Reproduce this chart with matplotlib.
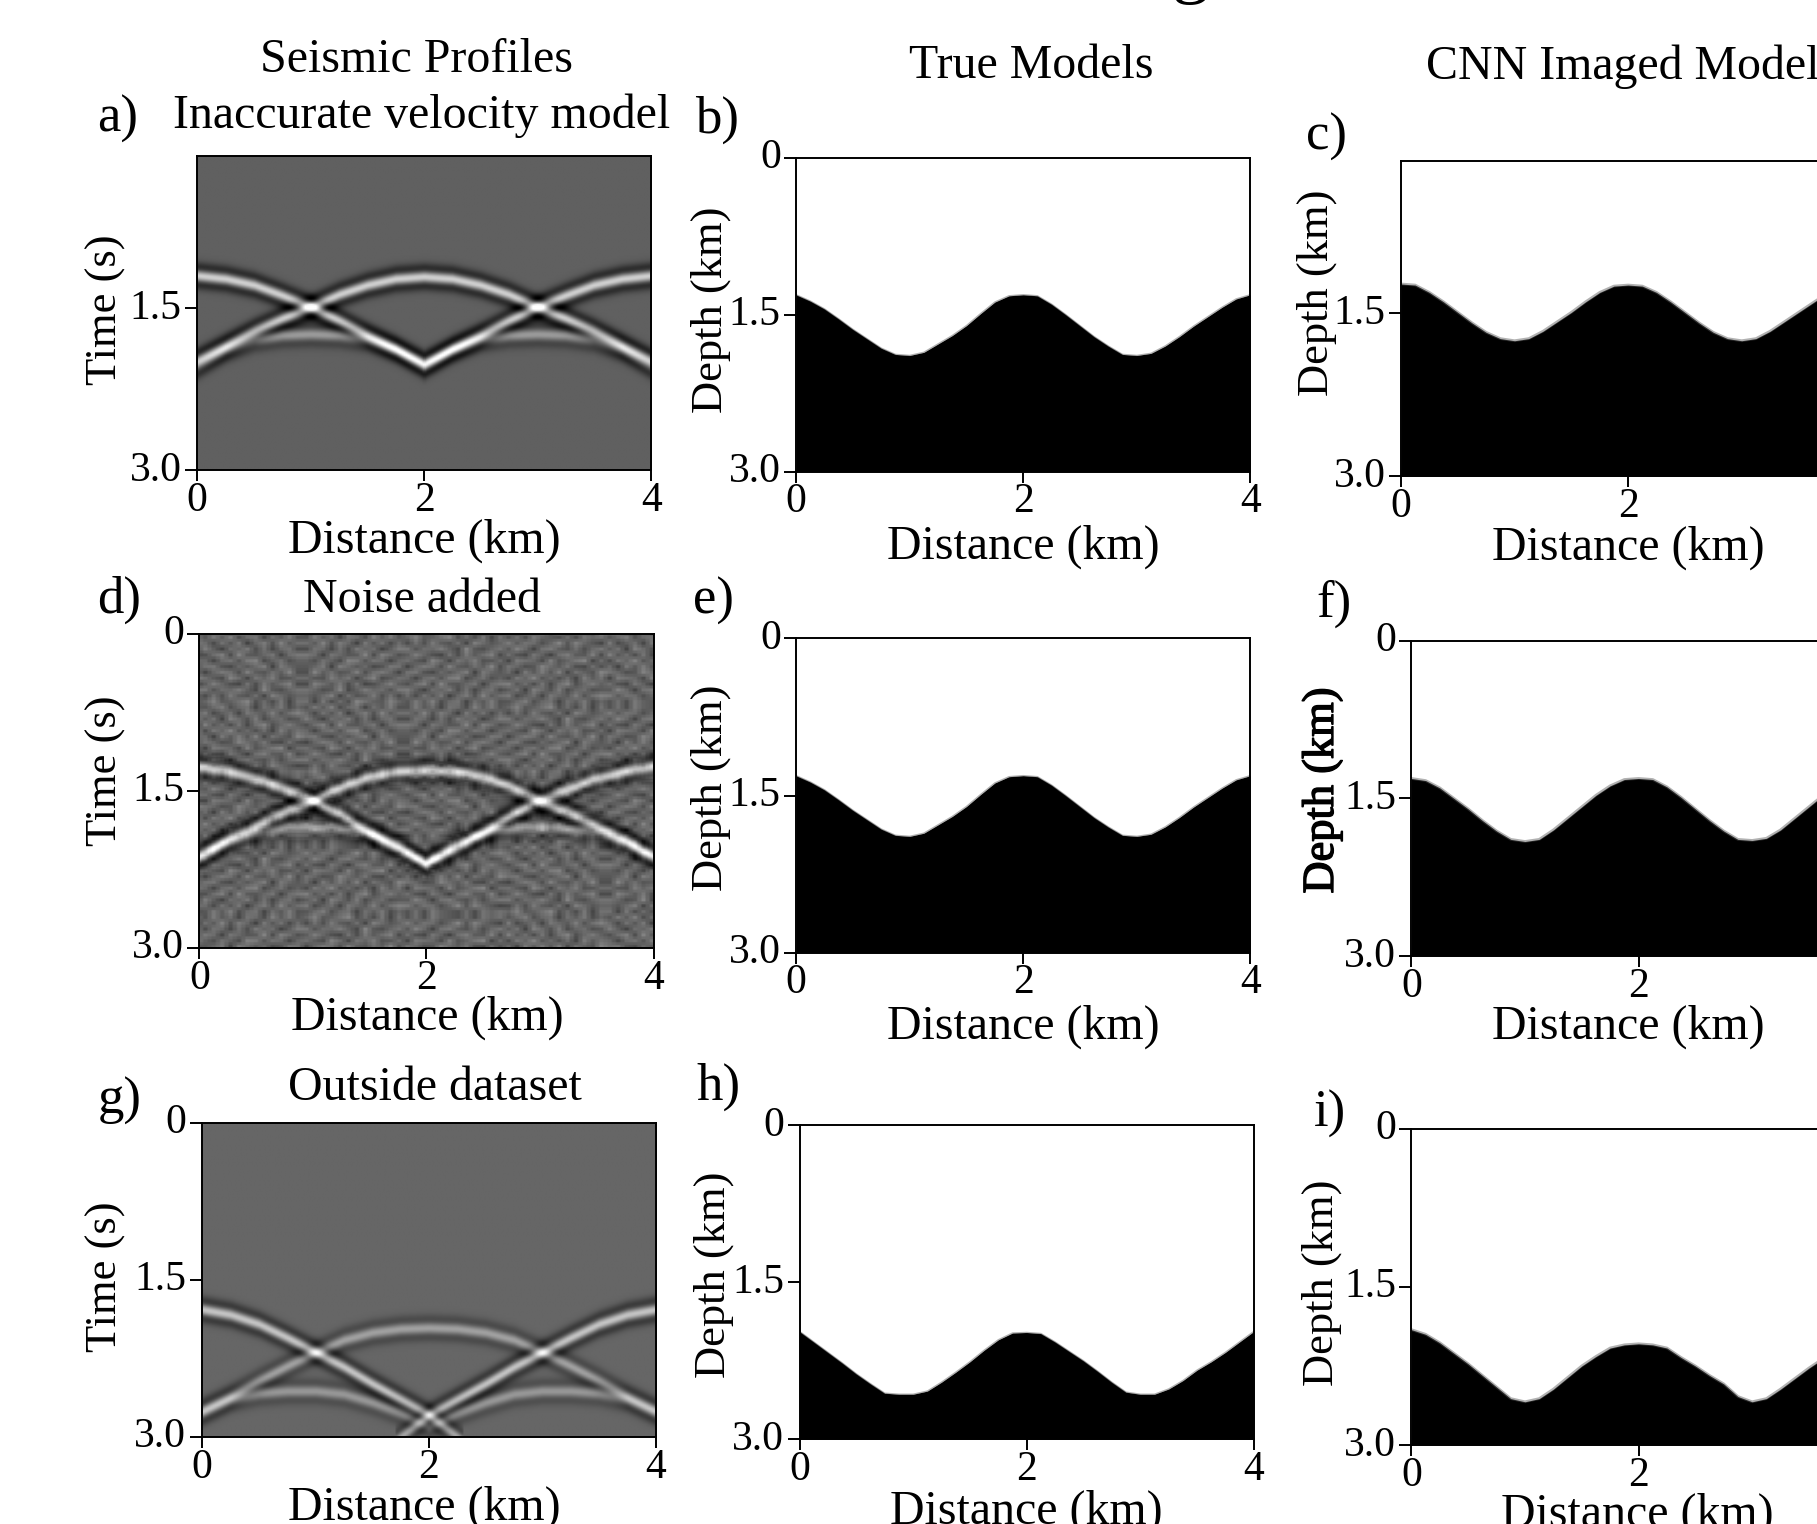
import numpy as np
import matplotlib
matplotlib.use("Agg")
import matplotlib.pyplot as plt
import matplotlib.patheffects as pe
from matplotlib.transforms import ScaledTranslation

plt.rcParams["font.family"] = ["Liberation Serif", "DejaVu Serif"]

W, H = 1817, 1524
SCALE = 1817 / 1568  # positions below were measured on the shrunk picture

# distance nodes
X_SEIS = [0, 0.25, 0.5, 0.75, 1, 1.25, 1.5, 1.75, 2, 2.25, 2.5, 2.75, 3, 3.25, 3.5, 3.75, 4]
X_MODEL = [i * 0.125 for i in range(33)]

# seismic events, time in s
A_DOWN = [1.15, 1.18, 1.24, 1.34, 1.45, 1.58, 1.72, 1.85, 1.99, 1.85, 1.72, 1.58, 1.45, 1.34, 1.24, 1.18, 1.15]
A_UP = [1.96, 1.82, 1.68, 1.56, 1.45, 1.33, 1.24, 1.18, 1.16, 1.18, 1.24, 1.33, 1.45, 1.56, 1.68, 1.82, 1.96]
A_LOW = [2.02, 1.86, 1.76, 1.72, 1.71, 1.72, 1.76, 1.86, 2.02, 1.86, 1.76, 1.72, 1.71, 1.72, 1.76, 1.86, 2.02]

D_DOWN = [1.28, 1.32, 1.39, 1.49, 1.60, 1.74, 1.91, 2.06, 2.20, 2.06, 1.91, 1.74, 1.60, 1.49, 1.39, 1.32, 1.27]
D_UP = [2.12, 1.97, 1.84, 1.71, 1.60, 1.47, 1.37, 1.32, 1.31, 1.32, 1.37, 1.47, 1.60, 1.71, 1.84, 1.97, 2.12]
D_LOW = [2.15, 2.00, 1.90, 1.86, 1.85, 1.86, 1.90, 2.02, 2.20, 2.02, 1.90, 1.86, 1.85, 1.86, 1.90, 2.00, 2.15]

G_DOWN = [1.79, 1.84, 1.93, 2.06, 2.20, 2.34, 2.50, 2.65, 2.80, 2.65, 2.50, 2.34, 2.20, 2.06, 1.93, 1.84, 1.79]
G_UP = [2.75, 2.62, 2.47, 2.33, 2.20, 2.08, 2.01, 1.975, 1.965, 1.975, 2.01, 2.08, 2.20, 2.33, 2.47, 2.62, 2.75]
G_LOW = [2.78, 2.65, 2.59, 2.57, 2.57, 2.60, 2.68, 2.78, 2.90, 2.78, 2.68, 2.60, 2.57, 2.57, 2.59, 2.65, 2.78]
G_TIP_X = [1.70, 2.00, 2.30]
G_TIP = [3.05, 2.80, 3.05]

# interface depth in km
TRUE_BE = [1.31, 1.37, 1.445, 1.54, 1.64, 1.73, 1.82, 1.88, 1.89, 1.86, 1.78, 1.70, 1.605, 1.49, 1.38, 1.32, 1.31,
           1.32, 1.40, 1.50, 1.605, 1.71, 1.80, 1.88, 1.89, 1.87, 1.80, 1.71, 1.61, 1.52, 1.43, 1.35, 1.31]
TRUE_H = [1.97, 2.07, 2.17, 2.27, 2.375, 2.47, 2.56, 2.57, 2.57, 2.54, 2.455, 2.36, 2.26, 2.15, 2.05, 1.985, 1.98,
          1.99, 2.07, 2.16, 2.25, 2.35, 2.455, 2.55, 2.57, 2.57, 2.52, 2.44, 2.34, 2.26, 2.17, 2.07, 1.97]
CNN_C = [1.17, 1.18, 1.25, 1.34, 1.44, 1.54, 1.63, 1.69, 1.71, 1.69, 1.62, 1.53, 1.44, 1.34, 1.25, 1.19, 1.18,
         1.19, 1.25, 1.34, 1.44, 1.54, 1.63, 1.69, 1.71, 1.69, 1.62, 1.53, 1.44, 1.35, 1.26, 1.19, 1.18]
CNN_F = [1.31, 1.33, 1.40, 1.50, 1.60, 1.71, 1.81, 1.89, 1.91, 1.89, 1.80, 1.69, 1.58, 1.47, 1.38, 1.32, 1.31,
         1.32, 1.39, 1.49, 1.60, 1.71, 1.81, 1.89, 1.90, 1.88, 1.80, 1.69, 1.58, 1.47, 1.38, 1.32, 1.31]
CNN_I = [1.906, 1.95, 2.03, 2.13, 2.23, 2.34, 2.45, 2.56, 2.59, 2.56, 2.47, 2.36, 2.25, 2.16, 2.08, 2.05, 2.04,
         2.05, 2.08, 2.17, 2.25, 2.34, 2.42, 2.54, 2.59, 2.56, 2.47, 2.37, 2.27, 2.18, 2.10, 2.02, 1.95]

# grey offsets estimated from the noise panel, repeated over the panel (not the real noise)
NOISE_TILE = [
    [-12, 18, -5, 24, -20, 6, 14, -26, 9, -8, 20, -15],
    [7, -22, 12, -9, 16, -30, 3, 19, -14, 25, -6, 10],
    [21, -4, -28, 8, 2, 17, -18, 11, -24, 5, 13, -20],
    [-16, 9, 23, -19, 27, -7, -12, 4, 15, -27, 8, 18],
    [4, -25, 6, 14, -11, 20, 26, -21, -3, 12, -17, -2],
    [13, 16, -14, -23, 5, -9, 7, 22, -29, 18, 2, -10],
    [-27, 3, 19, 11, -16, 24, -6, -13, 10, -4, 28, -18],
    [10, -8, -20, 26, 7, -24, 15, 1, 21, -15, -11, 6],
    [-5, 22, 2, -17, -26, 12, -19, 17, -7, 9, 24, -22],
    [17, -13, 8, 5, 20, -2, -23, 28, -10, -18, 3, 14],
    [-21, 11, -16, 18, -6, -14, 9, -25, 23, 6, -12, 1],
    [2, 25, -9, -3, 13, 29, -17, 6, -20, 16, -26, 12],
]

# box in shrunk px: left, top, bottom. every panel is 392 wide.
BOXES = {"a": (170, 135, 406), "b": (687, 136, 407), "c": (1209, 139, 411),
         "d": (172, 547, 818), "e": (687, 551, 822), "f": (1218, 553, 825),
         "g": (174, 969, 1240), "h": (690, 971, 1242), "i": (1218, 974, 1247)}
LETTERS = {"a": (84, 103), "b": (600, 103), "c": (1127, 118), "d": (84, 518), "e": (598, 519),
           "f": (1136, 521), "g": (84, 950), "h": (601, 938), "i": (1134, 961)}
YLABELS = {"a": (91, 267), "b": (613, 267), "c": (1136, 253), "d": (91, 665), "e": (613, 680),
           "f": (1141, 682), "g": (91, 1102), "h": (616, 1100), "i": (1141, 1107)}
XLABELS = {"a": (366, 467), "b": (883, 472), "c": (1405, 473), "d": (369, 878), "e": (883, 886),
           "f": (1405, 886), "g": (366, 1301), "h": (886, 1305), "i": (1413, 1307)}
TITLES = [("Seismic Profiles", 359, 52), ("Inaccurate velocity model", 364, 100), ("True Models", 890, 57),
          ("Noise added", 364, 518), ("Outside dataset", 375, 939)]


def fx(px):
    return px * SCALE / W


def fy(py):
    return 1 - py * SCALE / H


def put(txt, px, py, size=34.5, ha="center", **kw):
    fig.text(fx(px), fy(py), txt, fontsize=size, ha=ha, va="center", **kw)


def noise_grain(noise):
    # flip and turn the tile from block to block so the repeat does not line up
    tile = np.array(noise)
    versions = [tile, tile[::-1], tile.T, tile[:, ::-1], tile.T[::-1]]
    rows = []
    for i in range(5):
        rows.append(np.hstack([versions[(i * 2 + j * 3) % 5] for j in range(5)]))
    grain = np.repeat(np.repeat(np.vstack(rows)[:54, :54], 4, axis=0), 4, axis=1)
    return (grain + np.roll(grain, 2, 0) + np.roll(grain, 2, 1) + np.roll(grain, 2, (0, 1))) / 4


def seismic_image(events, base, noise=None):
    n = 216
    dist = np.linspace(0, 4, n)
    time = np.linspace(0, 3, n)
    img = np.full((n, n), float(base))
    for xs, ts, amp in events:
        # far away outside the event's own range, so nothing is added there
        curve = np.interp(dist, xs, ts, left=99, right=99)
        tau = (time[:, None] - curve[None, :]) / 0.052
        img += amp * 118 * (1 - tau ** 2) * np.exp(-tau ** 2 / 2)
    if noise is not None:
        img += 1.1 * noise_grain(noise)
    return np.clip(img, 0, 255)


def make_axes(key, yticks, ylabels):
    left, top, bottom = BOXES[key]
    ax = fig.add_axes([fx(left), fy(bottom), 392 * SCALE / W, (bottom - top) * SCALE / H])
    ax.set_xlim(0, 4)
    ax.set_ylim(3, 0)
    # the right column runs off the figure, its 4 is not in the picture
    ax.set_xticks([0, 2] if key in "cfi" else [0, 2, 4])
    ax.set_yticks(yticks)
    ax.set_yticklabels(ylabels)
    ax.tick_params(axis="x", length=8, width=1.4, labelsize=30, pad=0)
    ax.tick_params(axis="y", length=9, width=1.4, labelsize=30, pad=2)
    for lab in ax.get_yticklabels():
        lab.set_transform(lab.get_transform() + ScaledTranslation(0, 3 / 72, fig.dpi_scale_trans))
    for s in ax.spines.values():
        s.set_linewidth(1.4)
    return ax


def draw_seismic(key, events, base, ylabel_ticks, noise=None):
    ax = make_axes(key, *ylabel_ticks)
    ax.imshow(seismic_image(events, base, noise), cmap="gray", vmin=0, vmax=255, aspect="auto",
              extent=[0, 4, 3, 0], interpolation="bilinear")
    ax.set_xlim(0, 4)
    ax.set_ylim(3, 0)


def draw_model(key, depth, ylabel_ticks, edge):
    ax = make_axes(key, *ylabel_ticks)
    ax.fill_between(X_MODEL, depth, 3, color="black", linewidth=0)
    ax.plot(X_MODEL, depth, color="#555555", alpha=0.45, linewidth=edge)


fig = plt.figure(figsize=(W / 100, H / 100), dpi=100)

full = ([0, 1.5, 3], ["0", "1.5", "3.0"])
no_zero = ([1.45, 3], ["1.5", "3.0"])

draw_seismic("a", [(X_SEIS, A_DOWN, 0.95), (X_SEIS, A_UP, 0.95), (X_SEIS, A_LOW, 0.5)], 96, no_zero)
draw_seismic("d", [(X_SEIS, D_DOWN, 0.85), (X_SEIS, D_UP, 0.85), (X_SEIS, D_LOW, 0.5)], 100, full, NOISE_TILE)
draw_seismic("g", [(X_SEIS, G_DOWN, 0.8), (X_SEIS, G_UP, 0.5), (X_SEIS, G_LOW, 0.42), (G_TIP_X, G_TIP, 0.55)], 102, full)

draw_model("b", TRUE_BE, full, 1.0)
draw_model("e", TRUE_BE, full, 1.0)
draw_model("h", TRUE_H, full, 1.0)
draw_model("c", CNN_C, no_zero, 2.0)
draw_model("f", CNN_F, full, 2.0)
draw_model("i", CNN_I, full, 2.0)

for key, (x, y) in LETTERS.items():
    put(key + ")", x, y, size=38, ha="left")
for key, (x, y) in XLABELS.items():
    put("Distance (km)", x, y)
for key, (x, y) in YLABELS.items():
    name = "Time (s)" if key in "adg" else "Depth (km)"
    t = fig.text(fx(x), fy(y), name, fontsize=32, ha="center", va="center", rotation=90)
    if key == "f":
        # this one label is a little heavier in the original
        t.set_path_effects([pe.withStroke(linewidth=1.0, foreground="black")])
for txt, x, y in TITLES:
    put(txt, x, y)
put("CNN Imaged Model", 1231, 58, ha="left")

# main title is cut by the top edge, only the tail of its g shows
fig.text(1190 / W, 1 + 11 / H, "g", fontsize=54, ha="center", va="baseline")

fig.savefig("out.png", dpi=100)
plt.close(fig)
